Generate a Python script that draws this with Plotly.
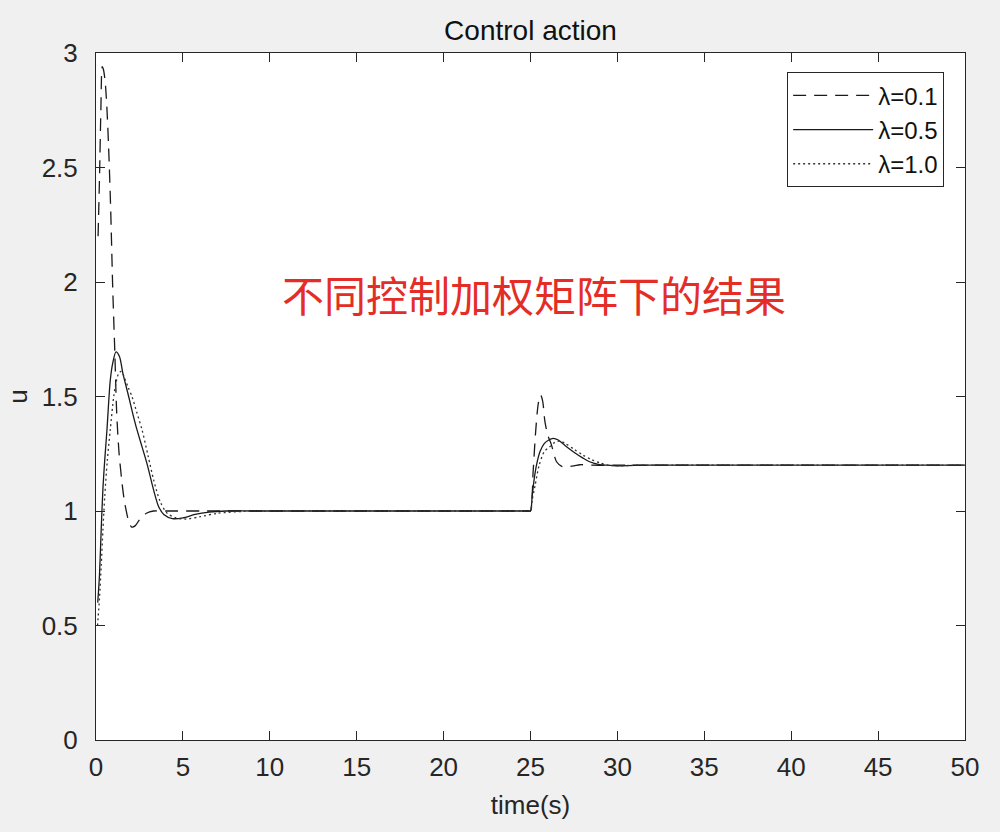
import plotly.graph_objects as go

# control action for three weighting values
t_01 = [0.12, 0.2, 0.28, 0.36, 0.42, 0.52, 0.62, 0.72, 0.84, 0.96, 1.08, 1.19,
        1.32, 1.48, 1.62, 1.77, 1.9, 2.05, 2.25, 2.53, 2.9, 3.3, 4.0, 6.0,
        10.0, 15.0, 20.0, 24.0, 24.9,
        25.0, 25.15, 25.3, 25.45, 25.58, 25.7, 25.83, 26.0, 26.2, 26.5, 26.8,
        27.08, 27.5, 27.85, 28.5, 30.0, 35.0, 40.0, 45.0, 50.0]
u_01 = [2.2, 2.45, 2.75, 2.94, 2.93, 2.88, 2.77, 2.6, 2.33, 1.98, 1.7, 1.43,
        1.26, 1.135, 1.05, 0.99, 0.95, 0.93, 0.935, 0.965, 0.99, 1.0, 1.0, 1.0,
        1.0, 1.0, 1.0, 1.0, 1.0,
        1.0, 1.17, 1.35, 1.47, 1.507, 1.48, 1.39, 1.33, 1.29, 1.215, 1.195,
        1.193, 1.197, 1.202, 1.2, 1.2, 1.2, 1.2, 1.2, 1.2]

t_05 = [0.1, 0.2, 0.3, 0.4, 0.5, 0.63, 0.82, 0.96, 1.15, 1.35, 1.55, 1.88,
        2.1, 2.36, 2.65, 2.93, 3.32, 3.6, 3.9, 4.4, 5.0, 5.7, 6.5, 7.5, 9.0,
        12.0, 16.0, 20.0, 24.0, 24.9,
        25.0, 25.1, 25.25, 25.4, 25.55, 25.8, 26.05, 26.3, 26.6, 27.0, 27.46,
        28.0, 28.4, 28.9, 29.4, 30.0, 31.0, 32.0, 36.0, 40.0, 45.0, 50.0]
u_05 = [0.6, 0.72, 0.92, 1.1, 1.22, 1.354, 1.57, 1.645, 1.695, 1.675, 1.6, 1.5,
        1.43, 1.354, 1.28, 1.208, 1.09, 1.02, 0.985, 0.967, 0.97, 0.985, 0.995,
        1.0, 1.0, 1.0, 1.0, 1.0, 1.0, 1.0,
        1.0, 1.07, 1.16, 1.22, 1.26, 1.295, 1.31, 1.317, 1.31, 1.285, 1.259,
        1.232, 1.215, 1.204, 1.2, 1.197, 1.199, 1.2, 1.2, 1.2, 1.2, 1.2]

t_10 = [0.09, 0.2, 0.3, 0.4, 0.5, 0.65, 0.82, 1.02, 1.15, 1.3, 1.45, 1.65,
        1.85, 2.07, 2.35, 2.65, 3.0, 3.32, 3.7, 4.1, 4.6, 5.2, 6.0, 7.0, 8.5,
        10.0, 14.0, 18.0, 22.0, 24.0, 24.9,
        25.0, 25.1, 25.26, 25.5, 25.8, 26.1, 26.4, 26.7, 27.0, 27.5, 28.0,
        28.5, 29.0, 29.5, 30.0, 31.0, 33.0, 37.0, 42.0, 46.0, 50.0]
u_10 = [0.5, 0.62, 0.76, 0.92, 1.06, 1.22, 1.354, 1.5, 1.56, 1.6, 1.61, 1.58,
        1.54, 1.5, 1.43, 1.354, 1.24, 1.135, 1.04, 0.99, 0.97, 0.965, 0.975,
        0.99, 0.998, 1.0, 1.0, 1.0, 1.0, 1.0, 1.0,
        1.0, 1.05, 1.11, 1.2, 1.26, 1.28, 1.3, 1.305, 1.295, 1.27, 1.245,
        1.225, 1.21, 1.2, 1.197, 1.2, 1.2, 1.2, 1.2, 1.2, 1.2]

x_ticks = [0, 5, 10, 15, 20, 25, 30, 35, 40, 45, 50]
y_ticks = [0, 0.5, 1, 1.5, 2, 2.5, 3]
y_tick_text = ["0", "0.5", "1", "1.5", "2", "2.5", "3"]

axis_col = "#262626"

fig = go.Figure()
fig.add_trace(go.Scatter(x=t_01, y=u_01, mode="lines", name="λ=0.1",
                         line=dict(color="#1a1a1a", width=1.3, dash="13px,8px",
                                   shape="spline", smoothing=0.8)))
fig.add_trace(go.Scatter(x=t_05, y=u_05, mode="lines", name="λ=0.5",
                         line=dict(color="#1a1a1a", width=1.3,
                                   shape="spline", smoothing=0.8)))
fig.add_trace(go.Scatter(x=t_10, y=u_10, mode="lines", name="λ=1.0",
                         line=dict(color="#333333", width=1.3, dash="2px,3px",
                                   shape="spline", smoothing=0.8)))

# red note in the middle of the axes
fig.add_annotation(x=25.2, y=1.95, xref="x", yref="y", showarrow=False,
                   text="不同控制加权矩阵下的结果",
                   font=dict(family="Noto Sans CJK SC", size=42, color="#e42d26"))

fig.update_layout(
    width=1000, height=832,
    margin=dict(l=96, r=35, t=53, b=92),
    paper_bgcolor="#f0f0f0",
    plot_bgcolor="white",
    font=dict(family="Liberation Sans, Arial, sans-serif", size=26, color=axis_col),
    title=dict(text="Control action", x=(96 + 965) / 2 / 1000, xanchor="center",
               y=1 - 30 / 832, yanchor="middle", yref="container",
               font=dict(size=28, color="#111111")),
    legend=dict(x=0.976, y=0.972, xanchor="right", yanchor="top",
                bgcolor="white", bordercolor=axis_col, borderwidth=1,
                font=dict(size=24, color="#111111"), itemwidth=80,
                tracegroupgap=0),
    showlegend=True,
)
fig.update_xaxes(range=[0, 50], tickvals=x_ticks, showline=True, mirror="ticks",
                 linecolor=axis_col, linewidth=1, ticks="inside", ticklen=9,
                 tickcolor=axis_col, showgrid=False, zeroline=False,
                 ticklabelstandoff=4,
                 title=dict(text="time(s)", standoff=14, font=dict(size=26)))
fig.update_yaxes(range=[0, 3], tickvals=y_ticks, ticktext=y_tick_text,
                 showline=True, mirror="ticks", linecolor=axis_col, linewidth=1,
                 ticks="inside", ticklen=9, tickcolor=axis_col, showgrid=False,
                 zeroline=False, ticklabelstandoff=12,
                 title=dict(text="u", standoff=6, font=dict(size=26)))

# drop the page margin so the figure sits at the window corner
fig.write_html("out.html", config={"displayModeBar": False},
               post_script="document.body.style.margin='0';"
                           "document.body.style.background='#f0f0f0';")
